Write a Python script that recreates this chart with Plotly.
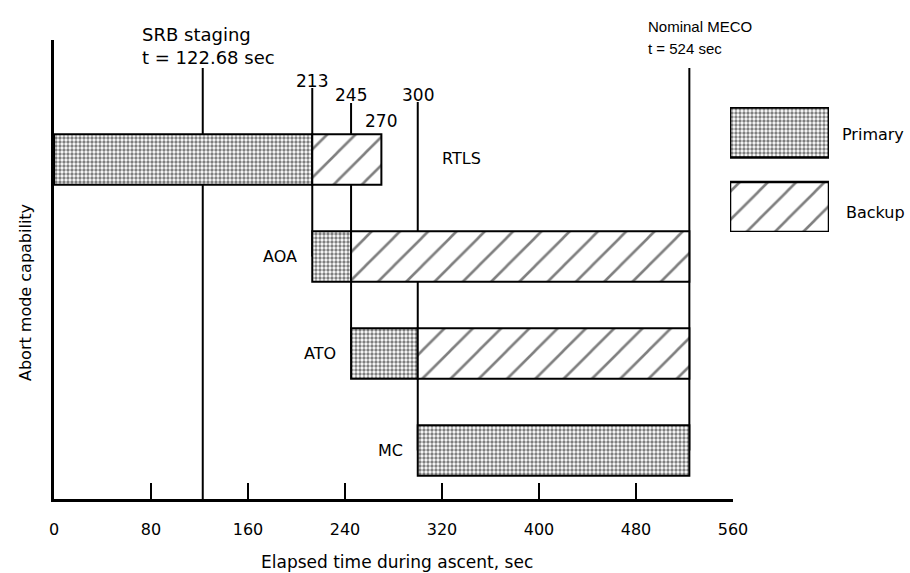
import plotly.graph_objects as go

# ---- data ----
modes = ["RTLS", "AOA", "ATO", "MC"]
primary_start = [0, 213, 245, 300]
primary_end = [213, 245, 300, 524]
backup_start = [213, 245, 300, None]
backup_end = [270, 524, 524, None]

srb_time = 122.68
meco_time = 524
boundary_times = [213, 245, 300]      # vertical lines down to AOA, ATO, MC
boundary_labels = [213, 245, 300, 270]
x_ticks = [0, 80, 160, 240, 320, 400, 480, 560]
legend_names = ["Primary", "Backup"]

# ---- layout geometry (window pixels; body margin removed by post_script) ----
OFF = 0
W, H = 910, 573
L, R, T, B = 54, 8, 40, 74
PW, PH = W - L - R, H - T - B
X_MAX = 560
X_DOM = (733 - OFF - L) / PW
Y_RANGE = [-0.5, 4.232]
FONT = "DejaVu Sans"


def px_x(px):
    return (px - OFF - L) / PW


def px_y(py):
    return (H - B - (py - OFF)) / PH


def data_y(py):
    return Y_RANGE[0] + px_y(py) * (Y_RANGE[1] - Y_RANGE[0])


n = len(modes)
ypos = [n - 1 - i for i in range(n)]

dots = dict(shape=".", fgcolor="black", bgcolor="white", size=4, solidity=0.55)
hatch = dict(shape="/", fgcolor="black", bgcolor="white", size=20, solidity=0.13)
outline = dict(color="black", width=2)

fig = go.Figure()

fig.add_trace(go.Bar(
    y=ypos, base=primary_start,
    x=[e - s for s, e in zip(primary_start, primary_end)],
    orientation="h", width=0.52,
    marker=dict(color="white", line=outline, pattern=dots),
    hoverinfo="skip", showlegend=False))

bk_y = [y for y, s in zip(ypos, backup_start) if s is not None]
bk_s = [s for s in backup_start if s is not None]
bk_e = [e for e in backup_end if e is not None]
fig.add_trace(go.Bar(
    y=bk_y, base=bk_s, x=[e - s for s, e in zip(bk_s, bk_e)],
    orientation="h", width=0.52,
    marker=dict(color="white", line=outline, pattern=hatch),
    hoverinfo="skip", showlegend=False))

# legend boxes on their own small axes
fig.add_trace(go.Bar(
    y=[1], x=[1], base=[0], orientation="h", width=0.67,
    marker=dict(color="white", line=dict(color="black", width=2.5), pattern=dots),
    xaxis="x2", yaxis="y2", hoverinfo="skip", showlegend=False))
fig.add_trace(go.Bar(
    y=[0], x=[1], base=[0], orientation="h", width=0.67,
    marker=dict(color="white", line=dict(color="black", width=2.5), pattern=hatch),
    xaxis="x2", yaxis="y2", hoverinfo="skip", showlegend=False))

# vertical event lines
shapes = []
line_style = dict(color="black", width=2)
shapes.append(dict(type="line", xref="x", yref="y", layer="below",
                   x0=srb_time, x1=srb_time, y0=Y_RANGE[0], y1=data_y(68), line=line_style))
tops = [88, 103, 102]
targets = [1, 2, 3]  # AOA, ATO, MC indices
for t, top, tg in zip(boundary_times, tops, targets):
    shapes.append(dict(type="line", xref="x", yref="y", layer="below",
                       x0=t, x1=t, y0=ypos[tg], y1=data_y(top), line=line_style))
shapes.append(dict(type="line", xref="x", yref="y", layer="below",
                   x0=meco_time, x1=meco_time, y0=ypos[3], y1=data_y(68), line=line_style))

ann = []


def text(s, x, y, size=17, xanchor="left", xref="paper", yref="paper", xshift=0, textangle=0, family=FONT):
    ann.append(dict(text=s, x=x, y=y, xref=xref, yref=yref, xanchor=xanchor, yanchor="middle",
                    showarrow=False, xshift=xshift, textangle=textangle,
                    font=dict(family=family, size=size, color="black")))


text("SRB staging", px_x(140), px_y(35), size=18)
text("t = %.2f sec" % srb_time, px_x(140), px_y(58), size=18)
text("Nominal MECO", px_x(646), px_y(26), size=15, family="Liberation Sans")
text("t = %d sec" % meco_time, px_x(646), px_y(48), size=15, family="Liberation Sans")

label_y = [81, 95, 95, 121]
for v, ly in zip(boundary_labels, label_y):
    text(str(v), v, px_y(ly), size=17, xanchor="center", xref="x")

text("RTLS", px_x(440), px_y(158), size=16)
for i in range(1, n):
    ann.append(dict(text=modes[i], x=primary_start[i], y=ypos[i], xref="x", yref="y",
                    xanchor="right", yanchor="middle", xshift=-13, showarrow=False,
                    font=dict(family=FONT, size=16, color="black")))

text(legend_names[0], px_x(840), px_y(134), size=16)
text(legend_names[1], px_x(844), px_y(212), size=16)

text("Abort mode capability", px_x(25), px_y(293), size=16, xanchor="center", textangle=-90)
text("Elapsed time during ascent, sec", px_x(397), px_y(562), size=17, xanchor="center")

fig.update_layout(
    width=W, height=H,
    margin=dict(l=L, r=R, t=T, b=B, autoexpand=False),
    paper_bgcolor="white", plot_bgcolor="white",
    barmode="overlay",
    shapes=shapes, annotations=ann,
    xaxis=dict(domain=[0, X_DOM], range=[0, X_MAX], showgrid=False, zeroline=False,
               showline=True, linecolor="black", linewidth=2.5,
               ticks="inside", ticklen=16, tickwidth=2, tickcolor="black",
               tickvals=x_ticks, ticktext=[str(v) for v in x_ticks],
               ticklabelstandoff=14,
               tickfont=dict(family=FONT, size=16, color="black")),
    yaxis=dict(domain=[0, 1], range=Y_RANGE, showgrid=False, zeroline=False,
               showline=True, linecolor="black", linewidth=2.5,
               showticklabels=False, ticks=""),
    xaxis2=dict(domain=[px_x(730), px_x(829)], range=[0, 1], anchor="y2",
                visible=False, fixedrange=True),
    yaxis2=dict(domain=[px_y(232), px_y(107)], range=[-0.336, 1.342], anchor="x2",
                visible=False, fixedrange=True),
)

fig.write_html("out.html", config={"displayModeBar": False},
               post_script="document.body.style.margin='0';document.body.style.overflow='hidden';")
